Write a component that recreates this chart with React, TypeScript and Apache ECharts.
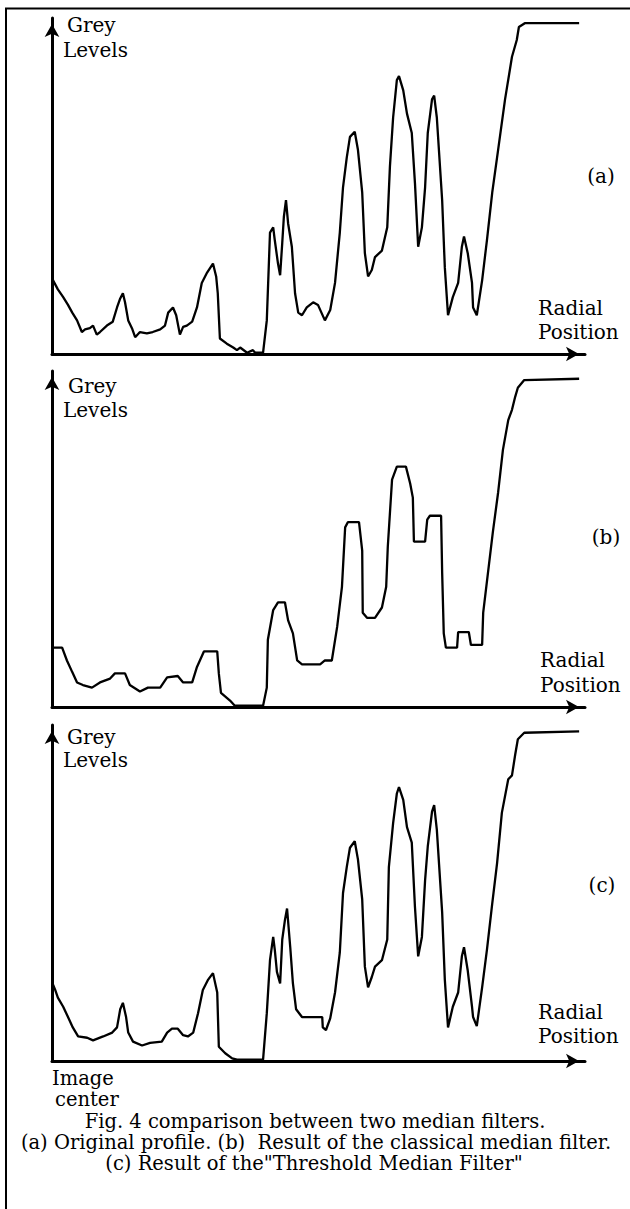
import React, { useEffect, useRef } from "react";
import * as echarts from "echarts";

// Radial position (0..100) and grey level (0..255)
const profileA: number[][] = [
  [0.2, 57], [1.1, 50], [2.1, 44], [3.0, 38], [3.8, 32], [4.7, 26], [5.6, 17], [6.2, 19], [7.1, 20], [7.7, 22],
  [8.4, 15], [9.0, 17], [10.3, 22], [11.4, 25], [12.2, 36], [12.8, 43], [13.3, 47], [13.7, 40], [14.3, 26], [15.0, 20],
  [15.6, 13], [16.5, 17], [17.8, 16], [18.9, 17], [20.3, 19], [21.2, 22], [21.8, 32], [22.7, 36], [23.3, 30], [24.0, 15],
  [24.6, 21], [25.3, 22], [26.3, 25], [27.2, 36], [28.1, 55], [29.1, 63], [30.2, 70], [30.8, 60], [31.1, 47], [31.5, 12],
  [32.8, 8], [34.0, 5], [34.7, 3], [35.3, 5], [36.6, 1], [37.7, 3], [38.1, 1], [39.6, 1], [40.3, 26], [40.9, 94],
  [41.5, 98], [41.8, 88], [42.4, 70], [42.8, 61], [43.2, 86], [43.5, 106], [43.9, 119], [44.3, 101], [45.0, 83], [45.6, 47],
  [46.2, 32], [46.9, 30], [47.8, 36], [49.0, 40], [49.9, 38], [51.2, 26], [52.2, 34], [53.1, 55], [54.0, 94], [54.6, 129],
  [55.3, 152], [55.9, 168], [56.8, 172], [57.4, 158], [58.2, 125], [58.7, 78], [59.3, 60], [60.0, 65], [60.6, 75], [61.9, 80],
  [62.9, 98], [63.4, 145], [64.0, 183], [64.7, 212], [65.1, 215], [65.9, 204], [66.6, 186], [67.5, 171], [68.1, 132], [68.7, 83],
  [69.4, 98], [70.0, 129], [70.5, 171], [71.3, 197], [71.7, 200], [72.2, 183], [73.2, 119], [73.7, 67], [74.3, 30], [75.2, 44],
  [76.2, 55], [76.9, 83], [77.3, 91], [78.0, 78], [78.8, 55], [79.0, 36], [79.7, 30], [80.7, 57], [81.6, 88], [82.6, 125],
  [83.7, 158], [85.0, 197], [86.3, 230], [87.2, 243], [87.6, 253], [88.7, 256], [98.9, 256],
];

const profileB: number[][] = [
  [0.2, 46], [1.9, 46], [2.8, 36], [3.8, 27], [4.7, 19], [5.8, 17], [7.5, 15], [9.0, 19], [10.9, 22], [11.8, 26],
  [13.7, 26], [14.6, 17], [16.5, 12], [18.0, 15], [20.3, 15], [21.6, 23], [23.6, 24], [24.6, 19], [26.3, 19], [27.2, 31],
  [28.5, 43], [31.0, 43], [31.3, 26], [31.7, 11], [33.4, 5], [34.3, 1], [39.6, 1], [40.3, 15], [40.5, 52], [41.5, 75],
  [42.4, 81], [43.7, 81], [44.3, 67], [45.2, 57], [46.0, 36], [46.9, 33], [50.3, 33], [51.2, 36], [52.5, 36], [53.5, 62],
  [54.4, 93], [55.0, 139], [55.5, 143], [57.6, 143], [58.2, 121], [58.3, 73], [59.1, 69], [60.6, 69], [61.9, 77], [62.7, 93],
  [63.0, 124], [63.8, 176], [64.7, 186], [66.4, 186], [67.2, 173], [67.7, 162], [67.9, 128], [70.0, 128], [70.4, 145], [70.9, 148],
  [73.0, 148], [73.2, 104], [73.5, 57], [73.9, 46], [76.0, 46], [76.2, 58], [78.2, 58], [78.6, 48], [80.7, 48], [80.9, 73],
  [81.8, 104], [82.7, 135], [83.7, 166], [84.6, 199], [85.6, 222], [86.3, 230], [86.9, 240], [87.4, 247], [88.6, 253], [98.9, 254],
];

const profileC: number[][] = [
  [0.2, 59], [0.6, 55], [1.1, 49], [2.1, 42], [3.0, 34], [3.9, 26], [4.9, 19], [6.6, 18], [7.7, 16], [9.6, 19],
  [11.3, 22], [12.2, 26], [12.8, 40], [13.3, 45], [13.9, 34], [14.3, 22], [15.2, 15], [16.9, 12], [18.4, 14], [20.6, 15],
  [21.6, 22], [22.5, 25], [23.6, 25], [24.6, 20], [25.5, 19], [26.5, 22], [27.4, 37], [28.3, 55], [29.3, 63], [30.2, 68],
  [31.0, 53], [31.3, 11], [32.5, 6], [33.8, 2], [34.7, 1], [39.6, 1], [40.3, 37], [40.9, 78], [41.5, 96], [41.8, 86],
  [42.2, 69], [42.8, 60], [43.2, 94], [43.7, 109], [44.1, 118], [44.7, 88], [45.2, 60], [45.8, 40], [46.9, 34], [50.7, 34],
  [50.8, 26], [51.4, 24], [52.2, 33], [53.1, 53], [54.0, 84], [54.6, 130], [55.3, 150], [55.9, 165], [56.8, 170], [57.4, 156],
  [58.2, 125], [58.7, 73], [59.3, 57], [60.0, 65], [60.6, 73], [61.9, 78], [62.9, 94], [63.2, 150], [64.0, 184], [64.7, 207],
  [65.1, 212], [65.9, 202], [66.6, 181], [67.5, 169], [68.1, 119], [68.7, 81], [69.4, 96], [70.0, 140], [70.5, 166], [71.3, 193],
  [71.7, 198], [72.2, 179], [73.2, 115], [73.7, 63], [74.3, 26], [75.2, 42], [76.2, 53], [76.9, 81], [77.3, 88], [78.0, 70],
  [78.8, 42], [79.0, 34], [79.7, 27], [80.7, 57], [81.6, 86], [82.6, 122], [83.5, 153], [84.4, 192], [85.6, 218], [86.3, 221],
  [86.9, 237], [87.4, 249], [88.6, 254], [98.9, 255],
];

const profiles = [profileA, profileB, profileC];
const panelTags = ["(a)", "(b)", "(c)"];
const yLabel = ["Grey", "Levels"];
const xLabel = ["Radial", "Position"];
const originLabel = ["Image", "center"];
const captionLines = [
  "Fig. 4 comparison between two median filters.",
  "(a) Original profile. (b)  Result of the classical median filter.",
  "(c) Result of the\"Threshold Median Filter\"",
];

const X_MAX = 100;
const Y_MAX = 260;

export default function App() {
  const ref = useRef<HTMLDivElement>(null);
  useEffect(() => {
    if (!ref.current) return;
    const chart = echarts.init(ref.current, null, { renderer: "svg" });
    const tops = [18, 371, 725];
    const H = 336;
    const FAMILY = "DejaVu Serif";
    const txt = (text: string, x: number, y: number, align = "left", size = 20) => ({
      type: "text",
      x,
      y,
      silent: true,
      style: {
        text,
        fontFamily: FAMILY,
        fontSize: size,
        fill: "#000",
        align,
        textAlign: align,
        verticalAlign: "middle",
        textVerticalAlign: "middle",
      },
    });
    const axisLine = {
      show: true,
      symbol: ["none", "arrow"],
      symbolSize: [11, 13],
      symbolOffset: [0, -6],
      lineStyle: { color: "#000", width: 3 },
    };
    const grids = tops.map((t) => ({ left: 52, top: t, width: 533, height: H }));
    const xAxes = tops.map((_, i) => ({
      type: "value",
      gridIndex: i,
      min: 0,
      max: X_MAX,
      axisLine,
      axisTick: { show: false },
      axisLabel: { show: false },
      splitLine: { show: false },
    }));
    const yAxes = tops.map((_, i) => ({
      type: "value",
      gridIndex: i,
      min: 0,
      max: Y_MAX,
      axisLine,
      axisTick: { show: false },
      axisLabel: { show: false },
      splitLine: { show: false },
    }));
    const series = profiles.map((d, i) => ({
      type: "line",
      xAxisIndex: i,
      yAxisIndex: i,
      data: d,
      showSymbol: false,
      symbol: "none",
      clip: false,
      lineStyle: { color: "#000", width: 2.3 },
      z: 3,
    }));
    const yLabelPos = [
      [67, 25, 63, 50],
      [68, 386, 63, 410],
      [67, 737, 63, 760],
    ];
    const xLabelPos = [
      [538, 308, 538, 332],
      [540, 660, 540, 685],
      [538, 1012, 538, 1036],
    ];
    const tagPos = [
      [601, 176],
      [606, 537],
      [602, 885],
    ];
    const elements: any[] = [
      { type: "line", silent: true, shape: { x1: 6, y1: 8, x2: 6, y2: 1209 }, style: { stroke: "#000", lineWidth: 2 } },
      { type: "line", silent: true, shape: { x1: 5, y1: 8.5, x2: 630, y2: 8.5 }, style: { stroke: "#000", lineWidth: 2 } },
    ];
    for (let i = 0; i < 3; i++) {
      const [gx, gy, lx, ly] = yLabelPos[i];
      elements.push(txt(yLabel[0], gx, gy));
      elements.push(txt(yLabel[1], lx, ly));
      const [rx, ry, px, py] = xLabelPos[i];
      elements.push(txt(xLabel[0], rx, ry));
      elements.push(txt(xLabel[1], px, py));
      elements.push(txt(panelTags[i], tagPos[i][0], tagPos[i][1], "center"));
    }
    elements.push(txt(originLabel[0], 52, 1078, "left", 19.5));
    elements.push(txt(originLabel[1], 55, 1099, "left", 19.5));
    elements.push(txt(captionLines[0], 315, 1121, "center", 19.5));
    elements.push(txt(captionLines[1], 316, 1142, "center", 19.5));
    elements.push(txt(captionLines[2], 314, 1163, "center", 19.5));

    chart.setOption({
      animation: false,
      backgroundColor: "#fff",
      grid: grids,
      xAxis: xAxes,
      yAxis: yAxes,
      series,
      graphic: { elements },
    });
    return () => chart.dispose();
  }, []);
  return (
    <div
      ref={ref}
      style={{ position: "absolute", left: 0, top: 0, width: 630, height: 1209, background: "#fff" }}
    />
  );
}
